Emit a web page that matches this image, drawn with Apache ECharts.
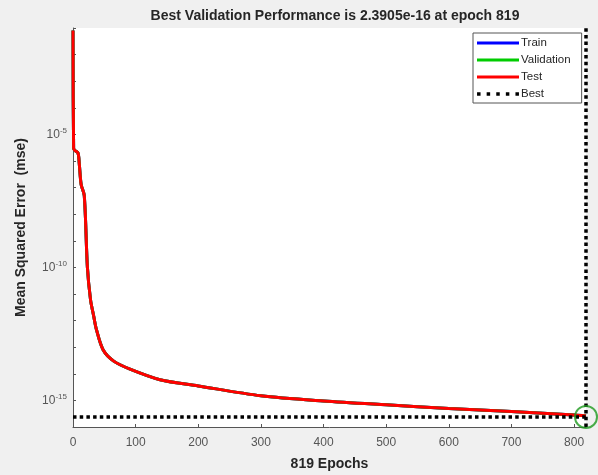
<!DOCTYPE html>
<html>
<head>
<meta charset="utf-8">
<script src="https://cdn.jsdelivr.net/npm/echarts@6/dist/echarts.min.js"></script>
<style>
  html, body { margin: 0; padding: 0; background: #f0f0f0; }
  #chart { width: 598px; height: 475px; }
</style>
</head>
<body>
<div id="chart"></div>
<script>
// (epoch, mse)
var epochs = [0, 1, 3, 8, 10, 13, 18, 23, 28, 33, 37, 48, 65, 91, 139, 200, 300, 400, 500, 600, 700, 800, 819];
var testMse = [8e-2, 3e-6, 2.5e-6, 2e-6, 8e-7, 1.3e-7, 5e-8, 1e-10, 6e-12, 1.5e-12, 5e-13, 8e-14, 3e-14, 1.5e-14,
  6e-15, 3.5e-15, 1.5e-15, 9.5e-16, 6.8e-16, 5e-16, 3.8e-16, 2.8e-16, 2.6e-16];
// train / validation lie under the test curve
var trainMse = testMse;
var valMse = testMse;

var bestEpoch = 819;
var bestPerf = 2.3905e-16;
var yMin = 1e-16;
var yMax = 1e-1;
var xTicks = [0, 100, 200, 300, 400, 500, 600, 700, 800];
var yLabelExps = [-5, -10, -15];

function pairs(xs, ys) {
  return xs.map(function (x, i) { return [x, ys[i]]; });
}

var font = "'Liberation Sans', Arial, sans-serif";
var lineIcon = "path://M0,0H42V3H0Z";
var dotIcon = "path://M0,0h3.5v3.5h-3.5z M9.6,0h3.5v3.5h-3.5z M19.2,0h3.5v3.5h-3.5z M28.8,0h3.5v3.5h-3.5z M38.4,0h3.5v3.5h-3.5z";

var myChart = echarts.init(document.getElementById("chart"));
var option = {
  backgroundColor: "#f0f0f0",
  animation: false,
  title: {
    text: "Best Validation Performance is " + bestPerf.toExponential(4) + " at epoch " + bestEpoch,
    left: 330,
    textAlign: "center",
    top: 4,
    textStyle: { fontFamily: font, fontSize: 14, fontWeight: "bold", color: "#262626" },
  },
  legend: {
    orient: "vertical",
    left: 473,
    top: 33,
    data: [
      { name: "Train", icon: lineIcon },
      { name: "Validation", icon: lineIcon },
      { name: "Test", icon: lineIcon },
      { name: "Best", icon: dotIcon },
    ],
    itemWidth: 42,
    itemHeight: 3.5,
    itemGap: 3,
    padding: [3, 11, 2, 4],
    backgroundColor: "#fff",
    borderColor: "#555",
    borderWidth: 1,
    borderRadius: 0,
    textStyle: { fontFamily: font, fontSize: 11.5, lineHeight: 14, color: "#262626", padding: [0, 0, 0, -3] },
  },
  grid: {
    left: 73,
    right: 12,
    top: 28,
    bottom: 48,
    show: true,
    backgroundColor: "#fff",
    borderWidth: 0,
    outerBoundsMode: "none",
  },
  xAxis: {
    type: "value",
    min: 0,
    max: bestEpoch,
    interval: 100,
    name: bestEpoch + " Epochs",
    nameLocation: "middle",
    nameGap: 30,
    nameTextStyle: { fontFamily: font, fontSize: 14, fontWeight: "bold", color: "#262626" },
    axisLine: { lineStyle: { color: "#555", width: 1 } },
    axisTick: { inside: true, length: 3, lineStyle: { color: "#555" } },
    splitLine: { show: false },
    axisLabel: {
      margin: 10,
      fontFamily: font,
      fontSize: 12,
      color: "#555",
      showMaxLabel: false,
      formatter: function (v) { return xTicks.indexOf(v) >= 0 ? String(v) : ""; },
    },
  },
  yAxis: {
    type: "log",
    logBase: 10,
    min: yMin,
    max: yMax,
    interval: 1,
    name: "Mean Squared Error  (mse)",
    nameLocation: "middle",
    nameGap: 45,
    nameTextStyle: { fontFamily: font, fontSize: 14, fontWeight: "bold", color: "#262626" },
    axisLine: { show: true, lineStyle: { color: "#555", width: 1 } },
    axisTick: { inside: true, length: 3, lineStyle: { color: "#555" } },
    splitLine: { show: false },
    axisLabel: {
      margin: 6,
      fontFamily: font,
      color: "#555",
      formatter: function (v) {
        var e = Math.round(Math.log10(v));
        if (yLabelExps.indexOf(e) < 0) return "";
        return "{b|10}{s|" + e + "}";
      },
      rich: {
        b: { fontFamily: font, fontSize: 12, color: "#555" },
        s: { fontFamily: font, fontSize: 8, color: "#555", padding: [0, 0, 8, 0] },
      },
    },
  },
  series: [
    {
      name: "Train",
      type: "line",
      symbol: "none",
      smooth: 0.3,
      data: pairs(epochs, trainMse),
      lineStyle: { color: "#0000ff", width: 3 },
      itemStyle: { color: "#0000ff" },
    },
    {
      name: "Validation",
      type: "line",
      symbol: "none",
      smooth: 0.3,
      data: pairs(epochs, valMse),
      lineStyle: { color: "#00cc00", width: 3 },
      itemStyle: { color: "#00cc00" },
    },
    {
      name: "Test",
      type: "line",
      symbol: "none",
      smooth: 0.3,
      data: pairs(epochs, testMse),
      lineStyle: { color: "#ff0000", width: 3 },
      itemStyle: { color: "#ff0000" },
      z: 3,
    },
    {
      name: "Best",
      type: "line",
      symbol: "none",
      clip: false,
      data: [[0, bestPerf], [bestEpoch, bestPerf]],
      lineStyle: { color: "#000", width: 3.5, type: [3.5, 3.2], cap: "butt" },
      itemStyle: { color: "#000" },
      z: 4,
    },
    {
      name: "Best",
      type: "line",
      symbol: "none",
      clip: false,
      data: [[bestEpoch, yMin], [bestEpoch, yMax]],
      lineStyle: { color: "#000", width: 3.5, type: [3.5, 3.2], cap: "butt" },
      itemStyle: { color: "#000" },
      z: 4,
    },
    {
      name: "BestPoint",
      type: "scatter",
      symbol: "circle",
      symbolSize: 22,
      clip: false,
      data: [[bestEpoch, bestPerf]],
      itemStyle: { color: "rgba(0,0,0,0)", borderColor: "#1e9a1e", borderWidth: 2 },
      z: 5,
    },
  ],
};
myChart.setOption(option);
</script>
</body>
</html>
